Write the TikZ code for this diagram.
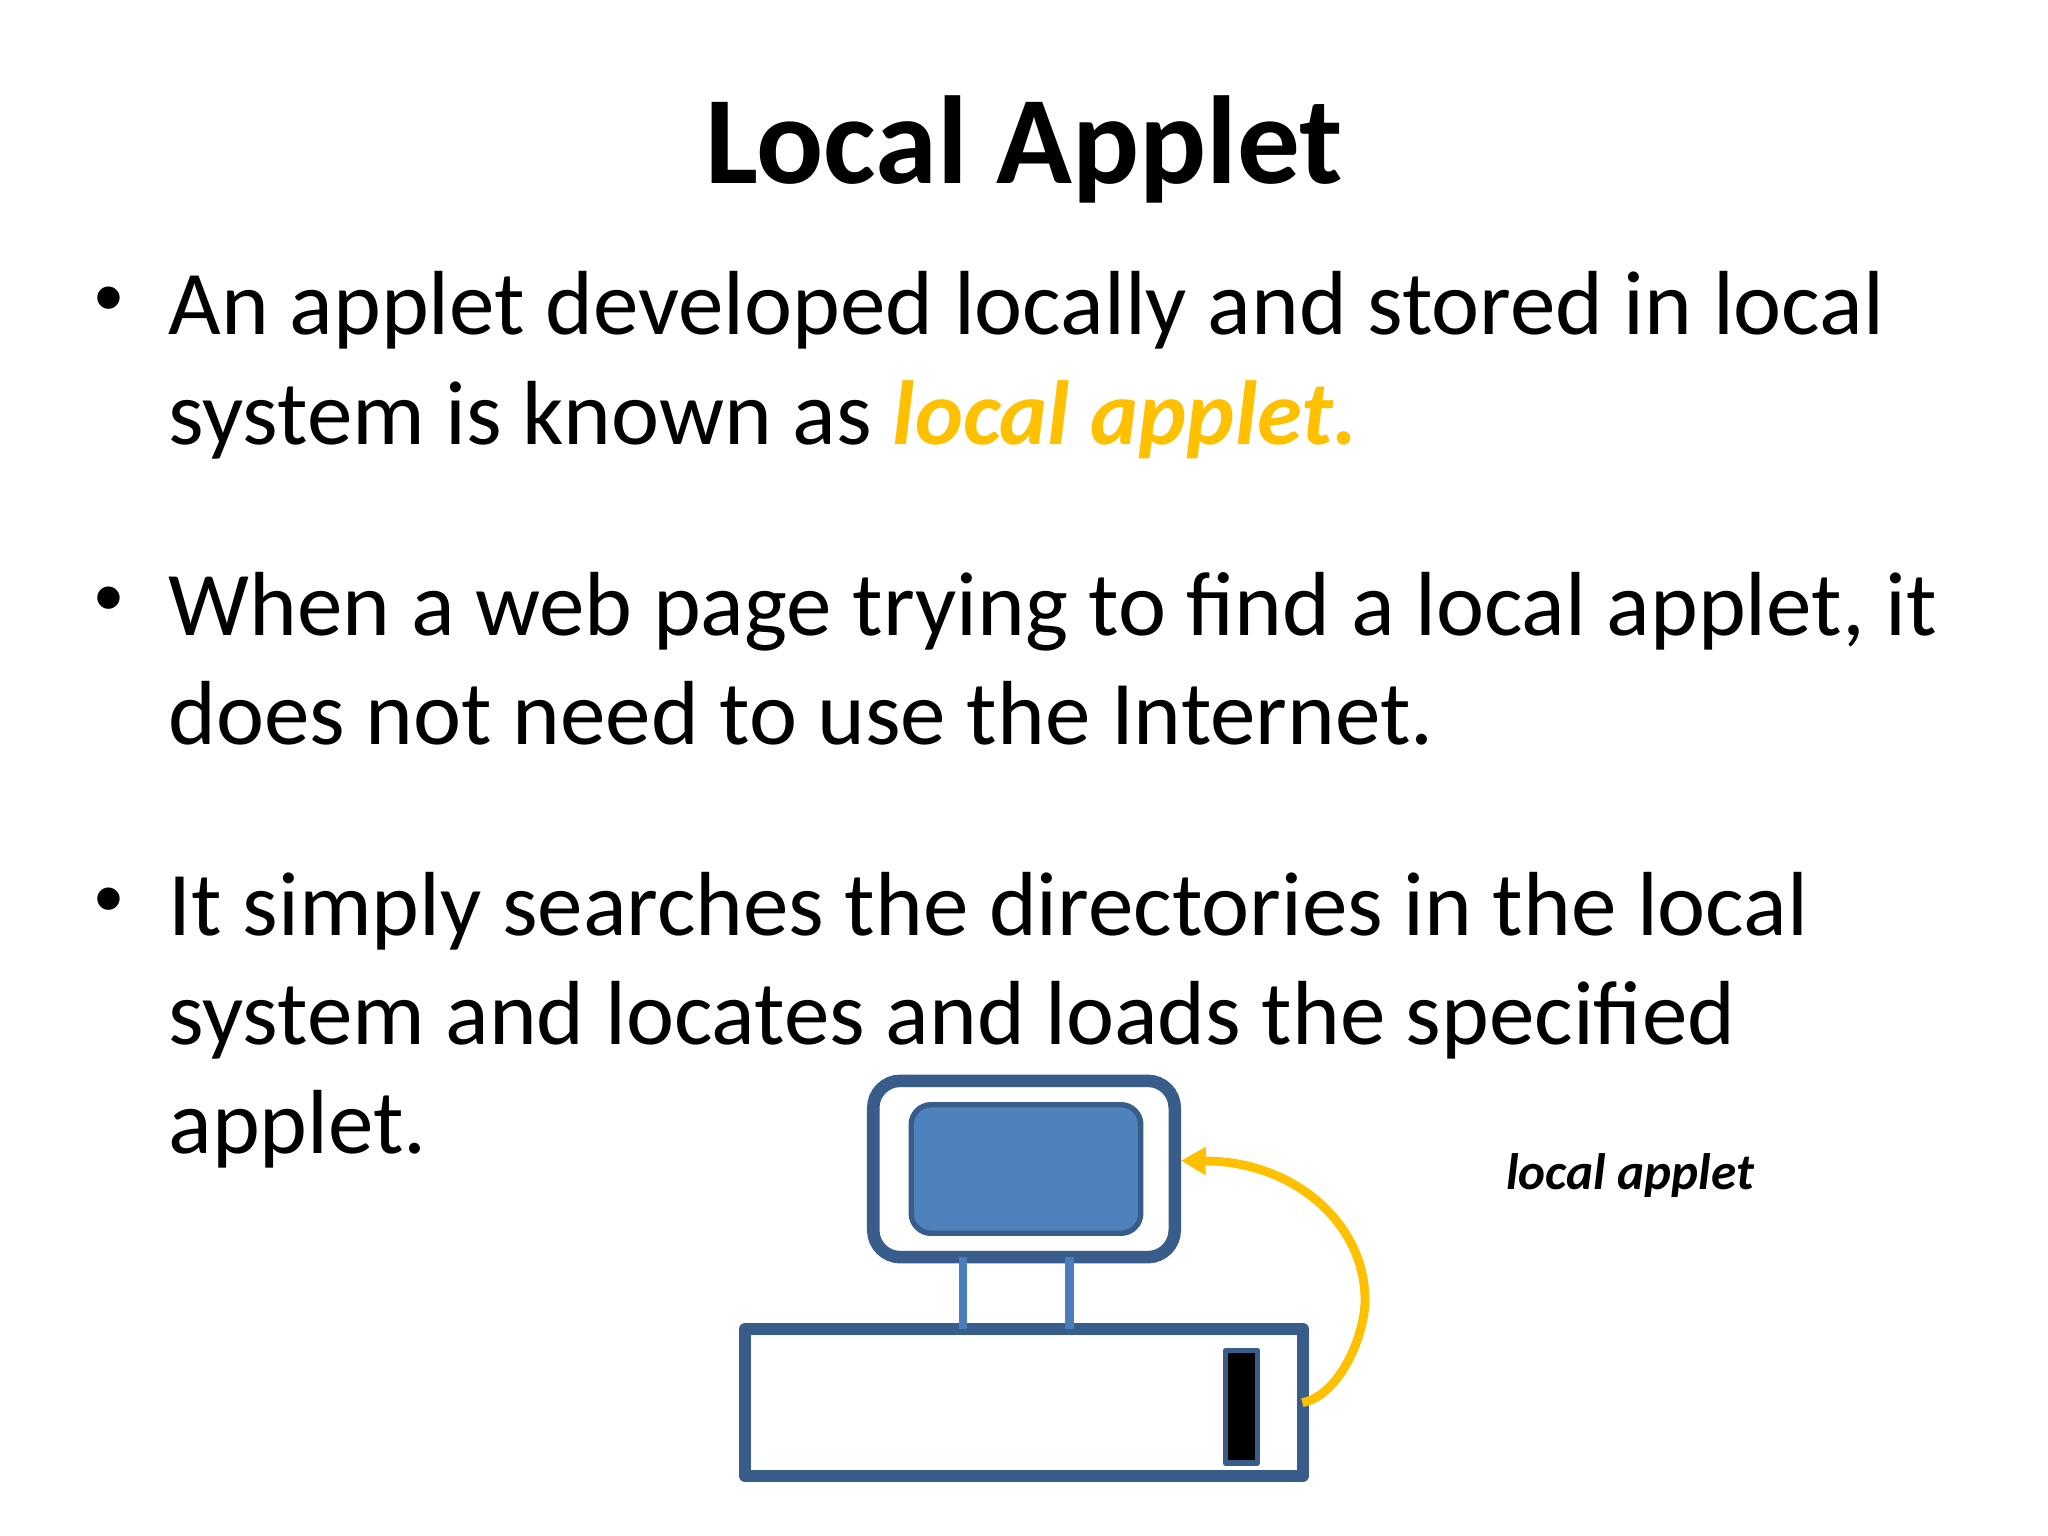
\documentclass[tikz,border=0pt]{standalone}
\usepackage{fontspec}
\setmainfont{Carlito}
\newfontfamily\bulletfont{Liberation Sans}
\usetikzlibrary{arrows.meta}
\definecolor{fillblue}{HTML}{4F81BD}
\definecolor{edgeblue}{HTML}{385D8A}
\definecolor{legblue}{HTML}{4A7EBB}
\definecolor{accent}{HTML}{FFC000}
\tikzset{
  titletext/.style={inner sep=0pt,anchor=base,font=\fontsize{44}{52}\selectfont\bfseries},
  bodyline/.style={inner sep=0pt,anchor=base west,font=\fontsize{32}{38}\selectfont},
  bulletmark/.style={inner sep=0pt,anchor=base,font=\fontsize{29}{34}\selectfont\bulletfont},
  monitorbox/.style={draw=edgeblue,line width=4.4pt,fill=white,rounded corners=9.5pt,inner sep=0pt,outer sep=0pt},
  screenbox/.style={draw=edgeblue,line width=1.9pt,fill=fillblue,rounded corners=7pt,inner sep=0pt,outer sep=0pt},
  basebox/.style={draw=edgeblue,line width=4.3pt,line join=round,fill=white,inner sep=0pt,outer sep=0pt},
  slotbox/.style={draw=edgeblue,line width=1.95pt,line join=round,fill=black,inner sep=0pt,outer sep=0pt},
  legline/.style={draw=legblue,line width=2.9pt},
  loadarrow/.style={draw=accent,line width=3.1pt,-{Stealth[length=8.7pt,width=9.4pt,inset=0pt]}},
  captiontext/.style={inner sep=0pt,anchor=base,font=\fontsize{18}{22}\selectfont\bfseries\itshape},
}
\begin{document}
\begin{tikzpicture}[x=0.3515625pt,y=-0.3515625pt]
\useasboundingbox (0,0) rectangle (2048,1536);
\fill[white] (0,0) rectangle (2048,1536);
\node[titletext] (title) at (1024,184) {Local Applet};
\node[bulletmark] (b1) at (108.5,325.5) {•};
\node[bodyline] (l1) at (168,334.5) {An applet developed locally and stored in local};
\node[bodyline] (l2) at (168,444.5) {system is known as \textcolor{accent}{\bfseries\itshape local applet.}};
\node[bulletmark] (b2) at (108.5,625.5) {•};
\node[bodyline] (l3) at (168,635.5) {When a web page trying to find a local applet, it};
\node[bodyline] (l4) at (168,744.5) {does not need to use the Internet.};
\node[bulletmark] (b3) at (108.5,926) {•};
\node[bodyline] (l5) at (168,935.5) {It simply searches the directories in the local};
\node[bodyline] (l6) at (168,1044.5) {system and locates and loads the specified};
\node[bodyline] (l7) at (168,1153.5) {applet.};
\node[monitorbox,minimum width=106pt,minimum height=62pt] (monitor) at (1024,1169) {};
\node[screenbox,minimum width=80.7pt,minimum height=45.2pt] (screen) at (1026,1169) {};
\node[basebox,minimum width=196pt,minimum height=51.7pt] (base) at (1024,1402.5) {};
\node[slotbox,minimum width=11.25pt,minimum height=39.6pt] (slot) at (1241.5,1406.7) {};
\coordinate (leg1top) at (962.8,1256.7);
\coordinate (leg2top) at (1069.5,1256.7);
\draw[legline] (leg1top) -- (leg1top |- base.north);
\draw[legline] (leg2top) -- (leg2top |- base.north);
\coordinate (arrowstart) at (1302.3,1402.7);
\coordinate (arrowend) at (1181,1160.7);
\draw[loadarrow] (arrowstart) .. controls (1340,1395) and (1365,1335) .. (1365,1300) .. controls (1365,1223) and (1293,1161) .. (1205,1161) -- (arrowend);
\node[captiontext] (cap) at (1630,1189.5) {local applet};
\end{tikzpicture}
\end{document}
